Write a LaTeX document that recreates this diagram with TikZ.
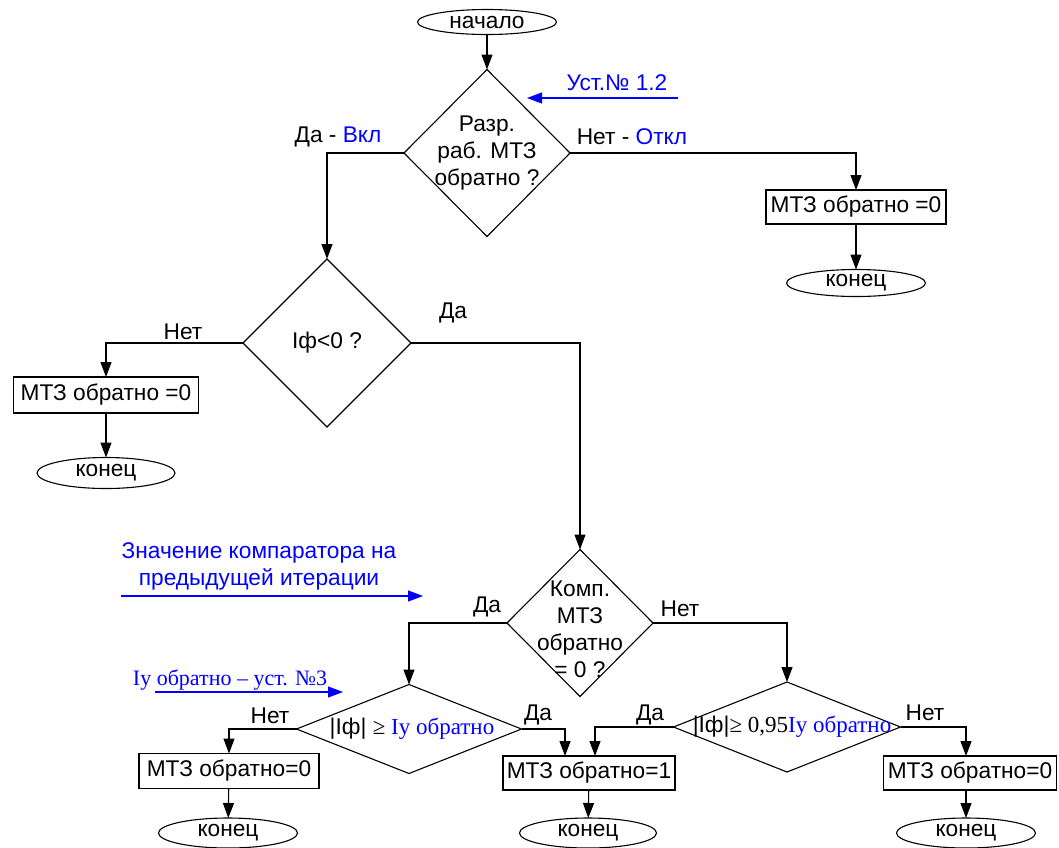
\documentclass[tikz,border=0pt]{standalone}
\usepackage{fontspec}
\setmainfont{Liberation Sans}
\newfontfamily\tnr{Liberation Serif}
\usetikzlibrary{arrows.meta,shapes.geometric}
\definecolor{hint}{RGB}{0,0,255}

\tikzset{
  every node/.style={font=\fontsize{22.7}{27}\selectfont, inner sep=0pt, outer sep=0pt},
  stepbox/.style={draw, line width=1.1pt, rectangle, minimum height=34},
  term/.style={draw, line width=1.1pt, ellipse},
  decide/.style={draw, line width=1.1pt, diamond},
  flow/.style={draw, line width=1.1pt, -{Triangle[length=15pt,width=11pt]}},
  hintline/.style={draw=hint, line width=1.1pt, -{Triangle[length=15pt,width=11pt]}},
  inside/.style={align=center},
  hinttext/.style={text=hint, align=center},
}

\begin{document}
\begin{tikzpicture}[x=1pt,y=-1pt]
\useasboundingbox (0,0) rectangle (1059,847);

% terminals
\node[term, minimum width=139, minimum height=25] (start) at (487,22) {начало};
\node[term, minimum width=139, minimum height=27] (end1) at (856,283) {конец};
\node[term, minimum width=138, minimum height=31] (end2) at (106,473) {конец};
\node[term, minimum width=139, minimum height=30] (end4) at (228,833) {конец};
\node[term, minimum width=137, minimum height=30] (end5) at (588,833) {конец};
\node[term, minimum width=139, minimum height=30] (end6) at (966,833) {конец};

% decisions
\node[decide, minimum width=166, minimum height=167,
      label={[inside]center:Разр.\\раб. МТЗ\\обратно ?}] (d1) at (487,153) {};
\node[decide, minimum width=168, minimum height=168,
      label={[inside]center:Iф<0 ?}] (d2) at (327,343) {};
\node[decide, minimum width=146, minimum height=147,
      label={[inside, yshift=-6pt]center:Комп.\\МТЗ\\обратно\\= 0 ?}] (d3) at (580,623) {};
\node[decide, minimum width=225, minimum height=89,
      label={[inside, xshift=3pt]center:|Iф| {\tnr\fontsize{23}{27}\selectfont ≥ \textcolor{hint}{Iу обратно}}}] (d4) at (409,729) {};
\node[decide, minimum width=227, minimum height=90,
      label={[inside, xshift=5pt]center:|Iф|{\tnr\fontsize{23}{27}\selectfont ≥ 0,95\textcolor{hint}{Iу обратно}}}] (d5) at (787,727) {};

% actions
\node[stepbox, minimum width=180] (b1) at (856,207) {МТЗ обратно =0};
\node[stepbox, minimum width=185, minimum height=36] (b2) at (106,395) {МТЗ обратно =0};
\node[stepbox, minimum width=180, minimum height=35] (b4) at (229,771) {МТЗ обратно=0};
\node[stepbox, minimum width=172] (b5) at (589,773) {МТЗ обратно=1};
\node[stepbox, minimum width=173] (b6) at (970,773) {МТЗ обратно=0};

% flow
\draw[flow] (start) -- (d1.north);
\draw[flow] (d1.west) -| (d2.north);
\draw[flow] (d1.east) -| (b1.north);
\draw[flow] (b1) -- (end1);
\draw[flow] (d2.west) -| (b2.north);
\draw[flow] (b2) -- (end2);
\draw[flow] (d2.east) -| (d3.north);
\draw[flow] (d3.west) -| (d4.north);
\draw[flow] (d3.east) -| (d5.north);
\draw[flow] (d4.west) -| (b4.north);
\draw[flow] (b4) -- (end4);
\draw[flow] (d4.east) -| ([xshift=-24pt]b5.north);
\draw[flow] (d5.west) -| ([xshift=6pt]b5.north);
\draw[flow] (b5) -- (end5);
\draw[flow] (d5.east) -| ([xshift=-4pt]b6.north);
\draw[flow] ([xshift=-4pt]b6.south) -- ([xshift=-4pt]b6.south |- end6.north);

% branch labels
\node (l1) at (338,137) {Да - \textcolor{hint}{Вкл}};
\node (l2) at (632,137) {Нет - \textcolor{hint}{Откл}};
\node (l3) at (183,332) {Нет};
\node (l4) at (453,313) {Да};
\node (l5) at (487,607) {Да};
\node (l6) at (680,609) {Нет};
\node (l7) at (270,716) {Нет};
\node (l8) at (538,715) {Да};
\node (l9) at (650,715) {Да};
\node (l10) at (925,713) {Нет};

% settings fed into the decisions
\coordinate (u12a) at (678,98);
\coordinate (u12b) at (527,98);
\draw[hintline] (u12a) -- (u12b);
\node[hinttext] (u12) at (617,83) {Уст.№ 1.2};

\coordinate (cmpa) at (121,596);
\coordinate (cmpb) at (423,596);
\draw[hintline] (cmpa) -- (cmpb);
\node[hinttext] (cmp) at (259,566) {Значение компаратора на\\предыдущей итерации};

\coordinate (iua) at (155,692);
\coordinate (iub) at (343,692);
\draw[hintline] (iua) -- (iub);
\node[hinttext] (iu) at (230,680) {\tnr\fontsize{22}{27}\selectfont Iу обратно – уст. №3};
\end{tikzpicture}
\end{document}
